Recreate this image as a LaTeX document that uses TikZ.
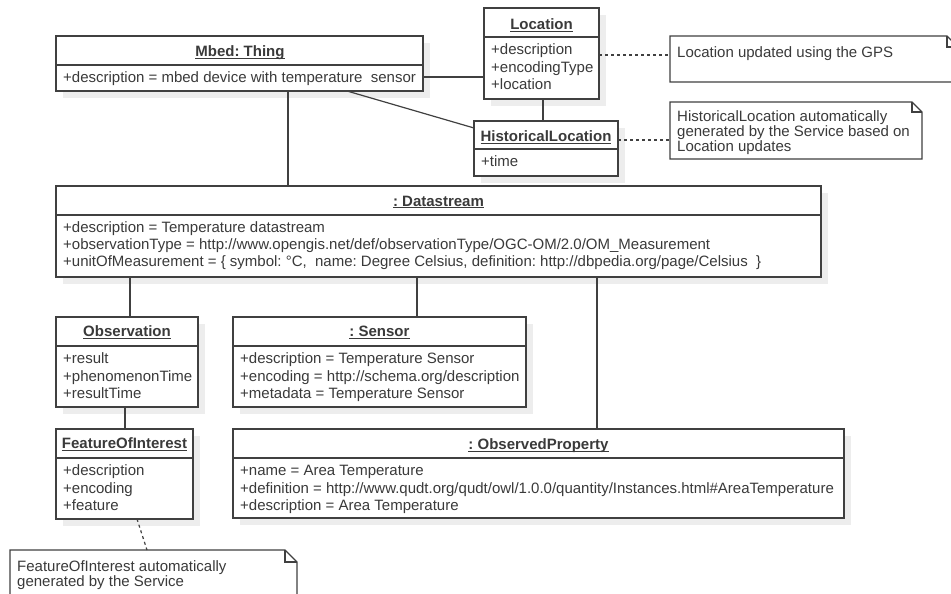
\documentclass[tikz,border=0pt]{standalone}
\usepackage{fontspec}
\setmainfont{Liberation Sans}
\usetikzlibrary{shadows}
\definecolor{ink}{HTML}{3A3A3A}
\definecolor{edge}{HTML}{404040}
\newcommand\titleul[1]{\setbox0\hbox{#1}\rlap{\rule[-2.2pt]{\wd0}{0.9pt}}\box0}
\frenchspacing
\begin{document}
\begin{tikzpicture}[x=1pt,y=-1pt,
  every node/.style={text=ink,font=\fontsize{15}{17}\selectfont},
  box/.style={draw=edge,line width=1.3pt,fill=white,inner sep=0pt,outer sep=0pt,
    anchor=north west,
    drop shadow={shadow xshift=7pt,shadow yshift=-7pt,fill=black!7,opacity=1}},
  sepline/.style={draw=edge,line width=1.1pt},
  ttl/.style={anchor=base,inner sep=0pt,font=\fontsize{15}{17}\selectfont\bfseries},
  attr/.style={anchor=base west,inner sep=0pt},
  notearea/.style={inner sep=0pt,outer sep=0pt,anchor=north west},
  noteline/.style={draw=edge,line width=1.2pt,fill=white},
  link/.style={draw=edge,line width=1.2pt},
  notelink/.style={draw=edge,line width=1.2pt,dash pattern=on 3pt off 3pt}]

\path[use as bounding box,clip] (0,0) rectangle (951,594);

% ---------------- Mbed: Thing
\node[box,minimum width=367pt,minimum height=55pt] (thing) at (56,36) {};
\draw[sepline] ([yshift=-29pt]thing.north west) -- ([yshift=-29pt]thing.north east);
\node[ttl] (thing-t) at (240,57) {\titleul{Mbed: Thing}};
\node[attr] (thing-a) at (63,83) {+description = mbed device with temperature\hspace{0.556em}sensor};

% ---------------- Location
\node[box,minimum width=115pt,minimum height=91pt] (loc) at (484,8) {};
\draw[sepline] ([yshift=-29pt]loc.north west) -- ([yshift=-29pt]loc.north east);
\node[ttl] (loc-t) at (541.5,29.3) {\titleul{Location}};
\node[attr] (loc-a1) at (491,55) {+description};
\node[attr] (loc-a2) at (491,72.5) {+encodingType};
\node[attr] (loc-a3) at (491,90) {+location};

% ---------------- HistoricalLocation
\node[box,minimum width=144pt,minimum height=55pt] (hist) at (474,121) {};
\draw[sepline] ([yshift=-28pt]hist.north west) -- ([yshift=-28pt]hist.north east);
\node[ttl] (hist-t) at (546,141.3) {\titleul{HistoricalLocation}};
\node[attr] (hist-a) at (481,166.7) {+time};

% ---------------- Datastream
\node[box,minimum width=765pt,minimum height=91pt] (ds) at (56,186) {};
\draw[sepline] ([yshift=-29pt]ds.north west) -- ([yshift=-29pt]ds.north east);
\node[ttl] (ds-t) at (438.5,206) {\titleul{: Datastream}};
\node[attr] (ds-a1) at (63,232.7) {+description = Temperature datastream};
\node[attr] (ds-a2) at (63,249.4) {+observationType = http://www.opengis.net/def/observationType/OGC-OM/2.0/OM\_Measurement};
\node[attr] (ds-a3) at (63,266) {+unitOfMeasurement = \{ symbol: \textdegree C,\hspace{0.556em}name: Degree Celsius, definition: http://dbpedia.org/page/Celsius\hspace{0.556em}\}};

% ---------------- Observation
\node[box,minimum width=142pt,minimum height=90pt] (obs) at (56,317) {};
\draw[sepline] ([yshift=-29pt]obs.north west) -- ([yshift=-29pt]obs.north east);
\node[ttl] (obs-t) at (127,336.7) {\titleul{Observation}};
\node[attr] (obs-a1) at (63,363.3) {+result};
\node[attr] (obs-a2) at (63,381) {+phenomenonTime};
\node[attr] (obs-a3) at (63,398.4) {+resultTime};

% ---------------- Sensor
\node[box,minimum width=293pt,minimum height=90pt] (sen) at (233,317) {};
\draw[sepline] ([yshift=-29pt]sen.north west) -- ([yshift=-29pt]sen.north east);
\node[ttl] (sen-t) at (379.5,336.7) {\titleul{: Sensor}};
\node[attr] (sen-a1) at (240,363.3) {+description = Temperature Sensor};
\node[attr] (sen-a2) at (240,381) {+encoding = http://schema.org/description};
\node[attr] (sen-a3) at (240,398.4) {+metadata = Temperature Sensor};

% ---------------- FeatureOfInterest
\node[box,minimum width=137pt,minimum height=90pt] (foi) at (56,429) {};
\draw[sepline] ([yshift=-29pt]foi.north west) -- ([yshift=-29pt]foi.north east);
\node[ttl] (foi-t) at (124.5,448.7) {\titleul{FeatureOfInterest}};
\node[attr] (foi-a1) at (63,475.7) {+description};
\node[attr] (foi-a2) at (63,493.3) {+encoding};
\node[attr] (foi-a3) at (63,510.7) {+feature};

% ---------------- ObservedProperty
\node[box,minimum width=611pt,minimum height=89pt] (op) at (233,429) {};
\draw[sepline] ([yshift=-29pt]op.north west) -- ([yshift=-29pt]op.north east);
\node[ttl] (op-t) at (538.5,449.3) {\titleul{: ObservedProperty}};
\node[attr] (op-a1) at (240,475.7) {+name = Area Temperature};
\node[attr] (op-a2) at (240,493.3) {+definition = http://www.qudt.org/qudt/owl/1.0.0/quantity/Instances.html\#AreaTemperature};
\node[attr] (op-a3) at (240,510.7) {+description = Area Temperature};

% ---------------- notes (folded top-right corner)
\node[notearea,minimum width=288pt,minimum height=46pt] (n1) at (670,36) {};
\node[notearea,minimum width=252pt,minimum height=57pt] (n2) at (670,102) {};
\node[notearea,minimum width=287pt,minimum height=60pt] (n3) at (10,550) {};
\foreach \n/\f in {n1/11,n2/10,n3/12}{
  \draw[noteline] (\n.north west) -- ([xshift=-\f pt]\n.north east)
    -- ([yshift=-\f pt]\n.north east) -- (\n.south east) -- (\n.south west) -- cycle;
  \draw[noteline,fill=none] ([xshift=-\f pt]\n.north east)
    -- ([xshift=-\f pt,yshift=-\f pt]\n.north east) -- ([yshift=-\f pt]\n.north east);
}
\node[attr] (n1-a) at (677,57.3) {Location updated using the GPS};
\node[attr] (n2-a1) at (677,121.7) {HistoricalLocation automatically};
\node[attr] (n2-a2) at (677,136.7) {generated by the Service based on};
\node[attr] (n2-a3) at (677,151.7) {Location updates};
\node[attr] (n3-a1) at (17,571.5) {FeatureOfInterest automatically};
\node[attr] (n3-a2) at (17,586) {generated by the Service};

% ---------------- associations
\draw[link] ([xshift=232pt]thing.south west) -- ([xshift=232pt]ds.north west);
\draw[link] ([yshift=-41pt]thing.north east) -- ([yshift=-69pt]loc.north west);
\draw[link] ([xshift=291pt]thing.south west) -- ([yshift=-7pt]hist.north west);
\draw[link] ([xshift=59pt]loc.south west) -- ([xshift=69pt]hist.north west);
\draw[link] ([xshift=74pt]ds.south west) -- ([xshift=74pt]obs.north west);
\draw[link] ([xshift=361pt]ds.south west) -- ([xshift=184pt]sen.north west);
\draw[link] ([xshift=541pt]ds.south west) -- ([xshift=364pt]op.north west);
\draw[link] ([xshift=69pt]obs.south west) -- ([xshift=69pt]foi.north west);

% ---------------- note anchors
\draw[notelink] ([yshift=-47pt]loc.north east) -- ([yshift=-19pt]n1.north west);
\draw[notelink] ([yshift=-19pt]hist.north east) -- ([yshift=-38pt]n2.north west);
\draw[notelink] ([xshift=81pt]foi.south west) -- ([xshift=137pt]n3.north west);
\end{tikzpicture}
\end{document}
